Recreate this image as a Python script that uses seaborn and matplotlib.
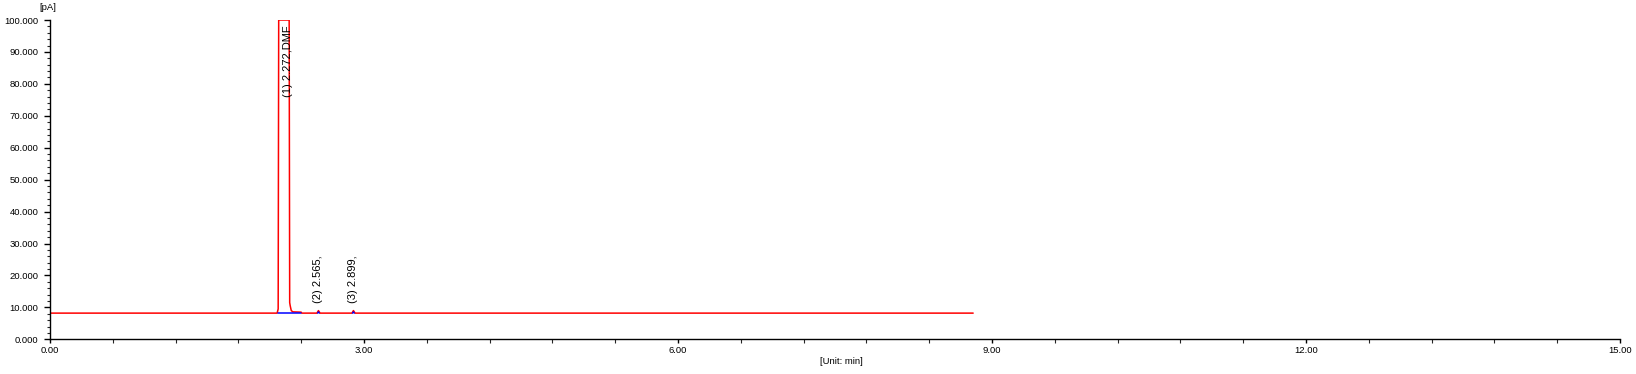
import numpy as np
import pandas as pd
import matplotlib
matplotlib.use("Agg")
import matplotlib.pyplot as plt
from matplotlib.ticker import MultipleLocator, FormatStrFormatter
import seaborn as sns

# --- data ---
time_min = [0.0, 2.170, 2.180, 2.185, 2.285, 2.290, 2.295, 2.305, 2.320, 2.400, 2.405,
            2.550, 2.565, 2.580, 2.885, 2.899, 2.915, 8.82]
signal_pa = [8.2, 8.2, 9.5, 100.0, 100.0, 11.5, 10.5, 9.0, 8.6, 8.5, 8.2,
             8.2, 9.0, 8.2, 8.2, 9.0, 8.2, 8.2]

baseline_t = [2.180, 2.400]
baseline_y = [8.2, 8.2]

peak_rt = [2.272, 2.565, 2.899]
peak_labels = ["(1) 2.272,DMF", "(2) 2.565,", "(3) 2.899,"]
label_y = [76.0, 11.4, 11.4]
marker_t = [2.565, 2.899]
marker_y = [8.6, 8.6]

sns.set_style("white")
plt.rcParams['font.family'] = ['Liberation Sans', 'DejaVu Sans']

fig = plt.figure(figsize=(16.36, 3.74), dpi=100)
ax = fig.add_axes([50/1636, 1-339.3/374, (1620-50)/1636, (339.3-20)/374])

df = pd.DataFrame({"t": time_min, "s": signal_pa})
sns.lineplot(data=df, x="t", y="s", ax=ax, color="#ff0000", lw=1.1,
             sort=False, estimator=None, zorder=2)
sns.lineplot(x=baseline_t, y=baseline_y, ax=ax, color="#0000ff", lw=1.1,
             sort=False, estimator=None, zorder=3)
for t, y in zip(marker_t, marker_y):
    ax.plot([t - 0.008, t, t + 0.008], [8.2, y, 8.2], color="#0000ff", lw=1.0, zorder=3)

for t, lab, y in zip(peak_rt, peak_labels, label_y):
    ax.text(t, y, lab, rotation=90, ha="center", va="bottom", fontsize=8, color="black")

ax.set_xlim(0, 15)
ax.set_ylim(0, 100)
ax.xaxis.set_major_locator(MultipleLocator(3))
ax.xaxis.set_minor_locator(MultipleLocator(0.6))
ax.yaxis.set_major_locator(MultipleLocator(10))
ax.yaxis.set_minor_locator(MultipleLocator(2))
ax.xaxis.set_major_formatter(FormatStrFormatter("%.2f"))
ax.yaxis.set_major_formatter(FormatStrFormatter("%.3f"))

for side in ["top", "right"]:
    ax.spines[side].set_visible(False)
for side in ["left", "bottom"]:
    ax.spines[side].set_linewidth(1.0)
    ax.spines[side].set_color("black")

ax.tick_params(axis="y", which="major", direction="out", length=4.3, width=1.0, pad=4,
               labelsize=6.8, left=True, colors="black")
ax.tick_params(axis="y", which="minor", direction="out", length=2.5, width=0.8, left=True)
ax.tick_params(axis="x", which="major", direction="out", length=3.0, width=1.0, pad=2,
               labelsize=6.8, bottom=True, colors="black")
ax.tick_params(axis="x", which="minor", direction="out", length=2.6, width=0.8, bottom=True)

ax.set_xlabel("")
ax.set_ylabel("")
fig.text(48/1636, 1-7/374, "[pA]", ha="center", va="center", fontsize=6.8, color="black")
fig.text(841/1636, 1-362/374, "[Unit: min]", ha="center", va="center", fontsize=6.8, color="black")

fig.savefig("out.png", dpi=100)
